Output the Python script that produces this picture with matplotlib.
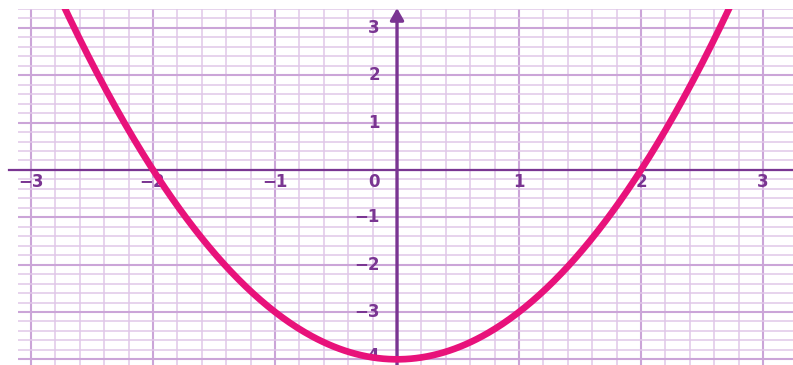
import numpy as np
import matplotlib
matplotlib.use('Agg')
import matplotlib.pyplot as plt


# parabola: roots at -2 and 2, vertex at (0, -4)
COEFFS = [1.0, 0.0, -4.0]
X_RANGE = [-3.0, 3.0]

x_ticks = [-3, -2, -1, 0, 1, 2, 3]
y_ticks = [-4, -3, -2, -1, 0, 1, 2, 3]
x_labels = ['\u22123', '\u22122', '\u22121', '', '1', '2', '3']
y_labels = ['\u22124', '\u22123', '\u22122', '\u22121', '0', '1', '2', '3']

PURPLE = '#7a3592'
PINK = '#e8127b'
GRID_MAJOR = '#cba5d8'
GRID_MINOR = '#e0c8e8'

W, H = 793, 365
fig = plt.figure(figsize=(W / 100, H / 100), dpi=100)
# axes rectangle in pixels: left 18, right 793, top 9, bottom 365
ax = fig.add_axes([18 / W, 0, (W - 18) / W, (H - 9) / H])

ax.set_xlim(-3.107, 3.246)
ax.set_ylim(-4.12, 3.40)

ax.set_xticks(np.arange(-3, 3.01, 0.2), minor=True)
ax.set_yticks(np.arange(-4, 3.41, 0.2), minor=True)
ax.set_xticks(x_ticks)
ax.set_yticks(y_ticks)
ax.grid(which='minor', color=GRID_MINOR, lw=1.1)
ax.grid(which='major', color=GRID_MAJOR, lw=1.5)
ax.set_axisbelow(True)
ax.tick_params(which='both', length=0, labelbottom=False, labelleft=False)
for s in ax.spines.values():
    s.set_visible(False)

# axes lines
ax.plot([-3.18, 3.246], [0, 0], color=PURPLE, lw=1.6, clip_on=False, zorder=3)
ax.annotate('', xy=(0, 3.42), xytext=(0, -4.2),
            arrowprops=dict(arrowstyle='-|>,head_length=0.7,head_width=0.4',
                            color=PURPLE, lw=2.4, shrinkA=0, shrinkB=0),
            annotation_clip=False, zorder=4)

# curve
xs = np.linspace(X_RANGE[0], X_RANGE[1], 400)
ax.plot(xs, np.polyval(COEFFS, xs), color=PINK, lw=4.8, zorder=5,
        solid_capstyle='butt')

font = dict(color=PURPLE, fontsize=12, fontweight='bold',
            family='DejaVu Sans', zorder=2)
for v, lab in zip(x_ticks, x_labels):
    if not lab:
        continue
    if v < 0:
        ax.text(v + 0.1, -0.25, lab, ha='right', va='center', **font)
    else:
        ax.text(v, -0.25, lab, ha='center', va='center', **font)
for v, lab in zip(y_ticks, y_labels):
    yy = -0.25 if v == 0 else (v + 0.07 if v == -4 else v)
    ax.text(-0.14, yy, lab, ha='right', va='center', **font)

fig.savefig('out.png', dpi=100)
